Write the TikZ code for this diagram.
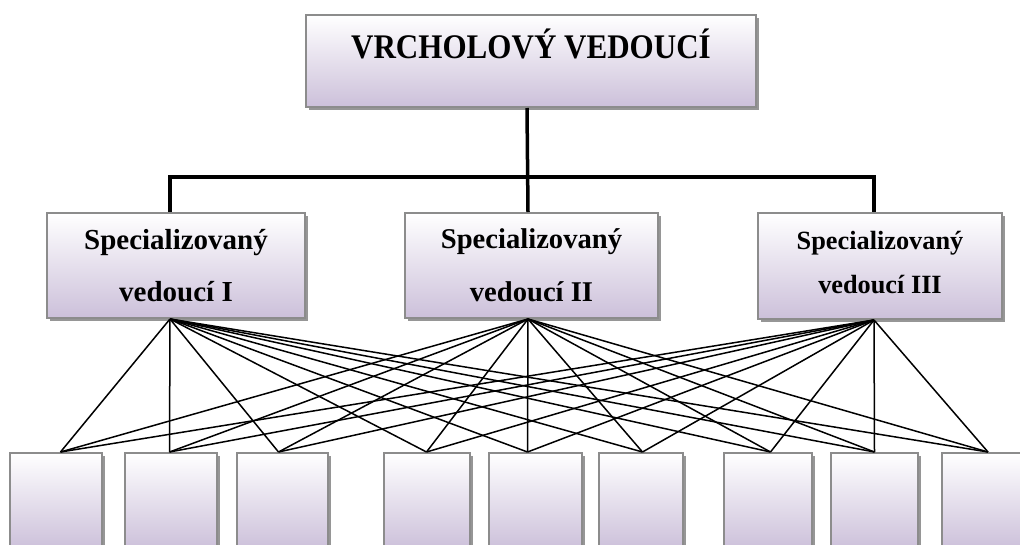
\documentclass[tikz,border=0pt]{standalone}
\usepackage{fontspec}
\setmainfont{Liberation Serif}
\newfontfamily\titlefont[FakeStretch=0.9]{Liberation Serif}
\usetikzlibrary{shadows}
\definecolor{lav}{RGB}{204,192,218}
\definecolor{bordergray}{RGB}{140,140,140}
\definecolor{shadowgray}{RGB}{150,150,150}
\begin{document}
\begin{tikzpicture}[x=1pt,y=-1pt,
  boxstyle/.style={draw=bordergray, line width=2pt, top color=white, bottom color=lav,
    inner sep=0pt, anchor=north west, align=center,
    drop shadow={shadow xshift=3pt, shadow yshift=-3pt, fill=shadowgray, opacity=1}},
  bus/.style={line width=3.5pt},
  fan/.style={line width=1.5pt},
]
\useasboundingbox (0,0) rectangle (1020,544);
\clip (0,0) rectangle (1020,544);

% top box
\node[boxstyle, minimum width=450pt, minimum height=92pt, text height=43pt, text depth=49pt,
  font=\titlefont\bfseries\fontsize{34.5}{40}\selectfont] (top) at (305,14) {VRCHOLOVÝ VEDOUCÍ};

% middle boxes
\node[boxstyle, minimum width=258pt, minimum height=105pt, text height=88pt, text depth=17pt,
  font=\bfseries\fontsize{29}{52}\selectfont] (m1) at (46,212) {Specializovaný\\vedoucí I};
\node[boxstyle, minimum width=253pt, minimum height=105pt, text height=88pt, text depth=17pt,
  font=\bfseries\fontsize{28.6}{53}\selectfont] (m2) at (404,212) {Specializovaný\\vedoucí II};
\node[boxstyle, minimum width=244pt, minimum height=106pt, text height=80pt, text depth=26pt,
  font=\bfseries\fontsize{26.3}{44}\selectfont] (m3) at (757,212) {Specializovaný\\vedoucí III};

% bottom boxes
\foreach \n/\x/\w in {b1/9/92, b2/124/92, b3/236/91, b4/383/86, b5/488/93, b6/598/84, b7/723/88, b8/830/87, b9/941/95}
  \node[boxstyle, minimum width=\w pt, minimum height=96pt] (\n) at (\x,452) {};

% bus connectors
\draw[bus] ([xshift=-4pt]top.south) -- ([xshift=-3.5pt]m2.north);
\draw[bus] ([xshift=-6pt]m1.north) -- ++(0,-35) -| ([xshift=-6pt]m3.north);

% fan connectors
\foreach \m/\s in {m1/-6, m2/-3.5, m3/-6}
  \foreach \b/\t in {b1/4.5, b2/-1.5, b3/-4, b4/-0.5, b5/-8, b6/1.5, b7/2.5, b8/0, b9/-1.5}
    \draw[fan] ([xshift=\s pt]\m.south) -- ([xshift=\t pt]\b.north);
\end{tikzpicture}
\end{document}
